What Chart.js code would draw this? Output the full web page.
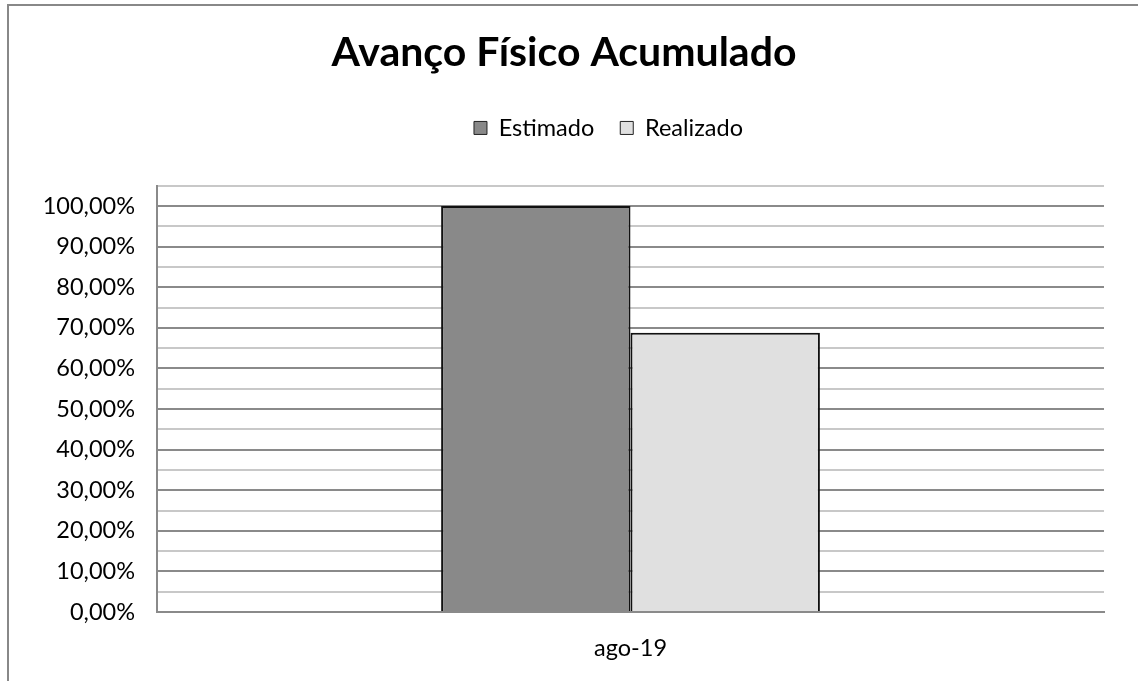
<!DOCTYPE html>
<html>
<head>
<meta charset="utf-8">
<script src="https://cdn.jsdelivr.net/npm/chart.js@4.4.1/dist/chart.umd.min.js"></script>
<style>
  html, body { margin: 0; padding: 0; background: #fff; overflow: hidden; }
  #wrap { position: relative; width: 1138px; height: 681px; }
</style>
</head>
<body>
<div id="wrap"><canvas id="c" width="1138" height="681"></canvas></div>
<script>
// Chart data
const chartTitle = 'Avanço Físico Acumulado';
const categories = ['ago-19'];
const seriesNames = ['Estimado', 'Realizado'];
const estimado = [1.0];
const realizado = [0.6877];
const seriesColors = ['#898989', '#e0e0e0'];

const FONT = 'Lato, "Open Sans", sans-serif';
const TEXT_SIZE = 23.5;

function pct(v) {
  return (v * 100).toFixed(2).replace('.', ',') + '%';
}

// Frame around the chart (left and top edges are visible)
const framePlugin = {
  id: 'frame',
  afterLayout(chart) {
    // legend row sits a little left of the plot centre
    if (chart.legend) {
      chart.legend.left -= 22;
      chart.legend.right -= 22;
    }
  },
  beforeDraw(chart) {
    const ctx = chart.ctx;
    ctx.save();
    ctx.strokeStyle = '#888888';
    ctx.lineWidth = 2;
    ctx.beginPath();
    ctx.moveTo(8, 700);
    ctx.lineTo(8, 5);
    ctx.lineTo(1200, 5);
    ctx.stroke();
    ctx.restore();
  }
};

new Chart(document.getElementById('c'), {
  type: 'bar',
  data: {
    labels: categories,
    datasets: [
      { label: seriesNames[0], data: estimado, backgroundColor: seriesColors[0], borderColor: '#111', borderWidth: 2 },
      { label: seriesNames[1], data: realizado, backgroundColor: seriesColors[1], borderColor: '#111', borderWidth: 2 }
    ]
  },
  options: {
    responsive: false,
    animation: false,
    devicePixelRatio: 1,
    layout: { padding: { left: 24, right: 34, top: 0, bottom: 0 } },
    datasets: { bar: { categoryPercentage: 0.4, barPercentage: 1.0 } },
    plugins: {
      title: {
        display: true,
        text: chartTitle,
        color: '#000',
        font: { family: FONT, size: 41, weight: 'bold' },
        padding: { top: 28, bottom: 13 }
      },
      legend: {
        display: true,
        position: 'top',
        fullSize: false,
        labels: {
          color: '#000',
          font: { family: FONT, size: TEXT_SIZE },
          boxWidth: 13,
          boxHeight: 13,
          padding: 26,
          generateLabels(chart) {
            return chart.data.datasets.map((ds, i) => ({
              text: ds.label,
              fillStyle: ds.backgroundColor,
              strokeStyle: '#222',
              lineWidth: 1,
              fontColor: '#000',
              hidden: false,
              datasetIndex: i
            }));
          }
        }
      },
      tooltip: { enabled: false }
    },
    scales: {
      // empty band between the legend and the plot
      gap: {
        type: 'category',
        position: 'top',
        labels: categories,
        grid: { display: false },
        border: { display: false },
        ticks: { display: false },
        afterFit(scale) { scale.height = 36; }
      },
      x: {
        grid: { display: false },
        border: { display: true, color: '#8a8a8a', width: 2 },
        ticks: { color: '#000', font: { family: FONT, size: TEXT_SIZE }, padding: 14 },
        afterFit(scale) { scale.height = 69; }
      },
      y: {
        min: 0,
        max: 1.05,
        afterFit(scale) { scale.width = 133; },
        afterBuildTicks(scale) {
          const t = [];
          for (let i = 0; i <= 21; i++) t.push({ value: Math.round(i * 5) / 100 });
          scale.ticks = t;
        },
        border: { display: true, color: '#8a8a8a', width: 2 },
        grid: {
          drawTicks: false,
          lineWidth: 2,
          color(ctx) {
            const v = Math.round(ctx.tick.value * 100);
            return v % 10 === 0 ? '#8a8a8a' : '#c8c8c8';
          }
        },
        ticks: {
          color: '#000',
          padding: 22,
          autoSkip: false,
          font: { family: FONT, size: TEXT_SIZE },
          callback(value) {
            const v = Math.round(value * 100);
            return v % 10 === 0 ? pct(value) : '';
          }
        }
      }
    }
  },
  plugins: [framePlugin]
});
</script>
</body>
</html>
